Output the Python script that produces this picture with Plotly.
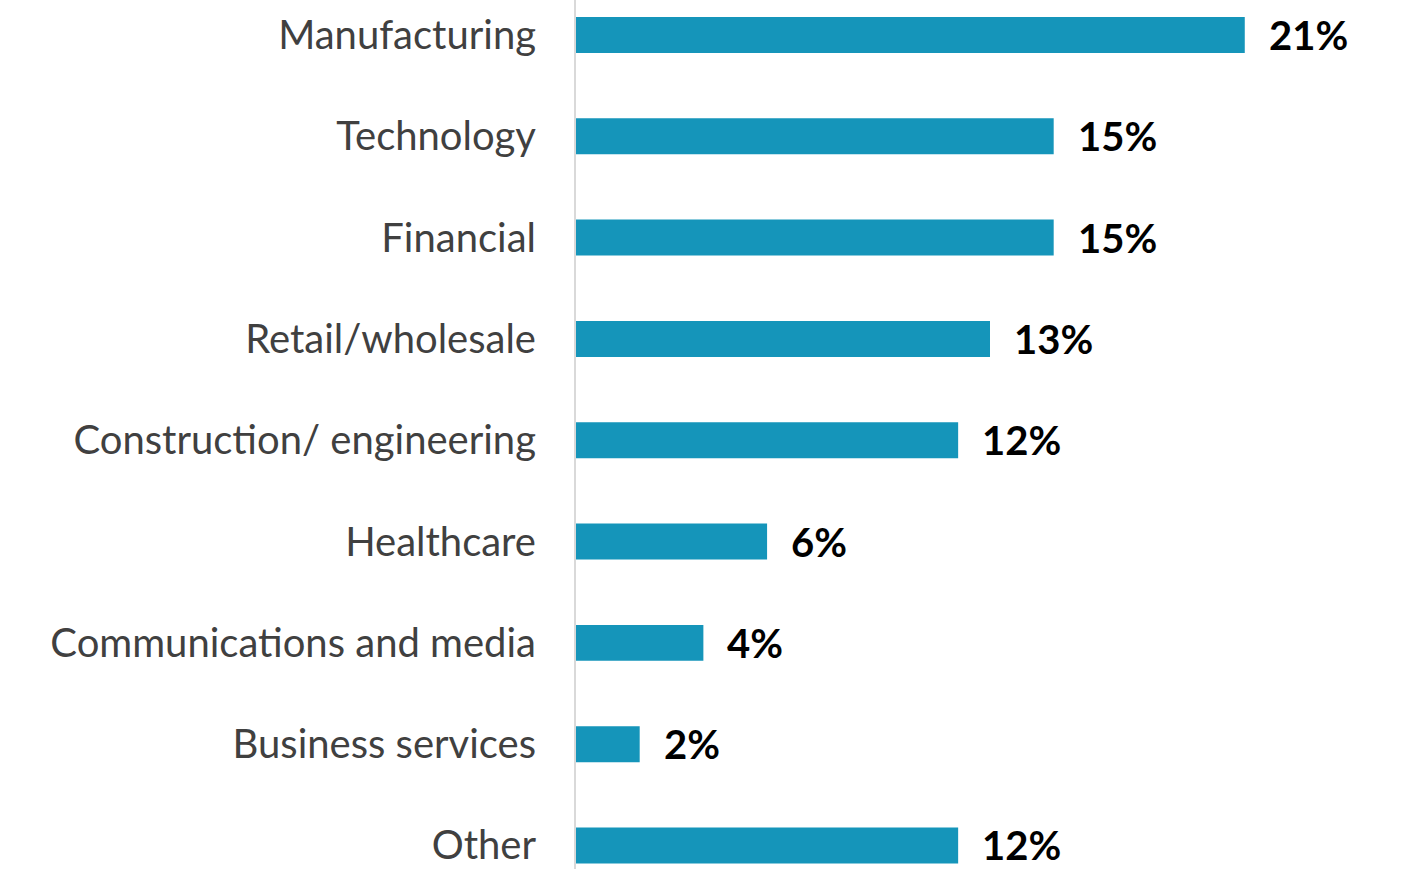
import plotly.graph_objects as go

categories = ["Manufacturing", "Technology", "Financial", "Retail/wholesale",
              "Construction/ engineering", "Healthcare", "Communications and media",
              "Business services", "Other"]
values = [21, 15, 15, 13, 12, 6, 4, 2, 12]
value_labels = [f"{v}%" for v in values]

BAR_COLOR = "#1595BA"

fig = go.Figure()
fig.add_trace(go.Bar(
    x=values, y=categories, orientation="h",
    marker=dict(color=BAR_COLOR, line=dict(width=0)),
    width=0.355, hoverinfo="skip",
))

for c, v, t in zip(categories, values, value_labels):
    fig.add_annotation(x=v, y=c, text=f"<b>{t}</b>", showarrow=False,
                       xanchor="left", yanchor="middle", xshift=22, yshift=0,
                       font=dict(family="Lato", size=40, color="#000000"))

fig.update_layout(
    width=1404, height=869,
    margin=dict(l=576, r=0, t=0, b=0),
    plot_bgcolor="white", paper_bgcolor="white",
    showlegend=False,
    xaxis=dict(range=[0, 26], visible=False, fixedrange=True),
    yaxis=dict(
        categoryorder="array", categoryarray=categories,
        range=[8.232, -0.345],
        showline=True, linecolor="#D9D9D9", linewidth=2,
        showgrid=False, zeroline=False, ticks="",
        ticklabelstandoff=30,
        tickfont=dict(family="Lato", size=40, color="#404040"),
        fixedrange=True,
    ),
)

fig.write_html("out.html",
               config={"displayModeBar": False},
               post_script="document.body.style.margin='0';document.body.style.overflow='hidden';")
